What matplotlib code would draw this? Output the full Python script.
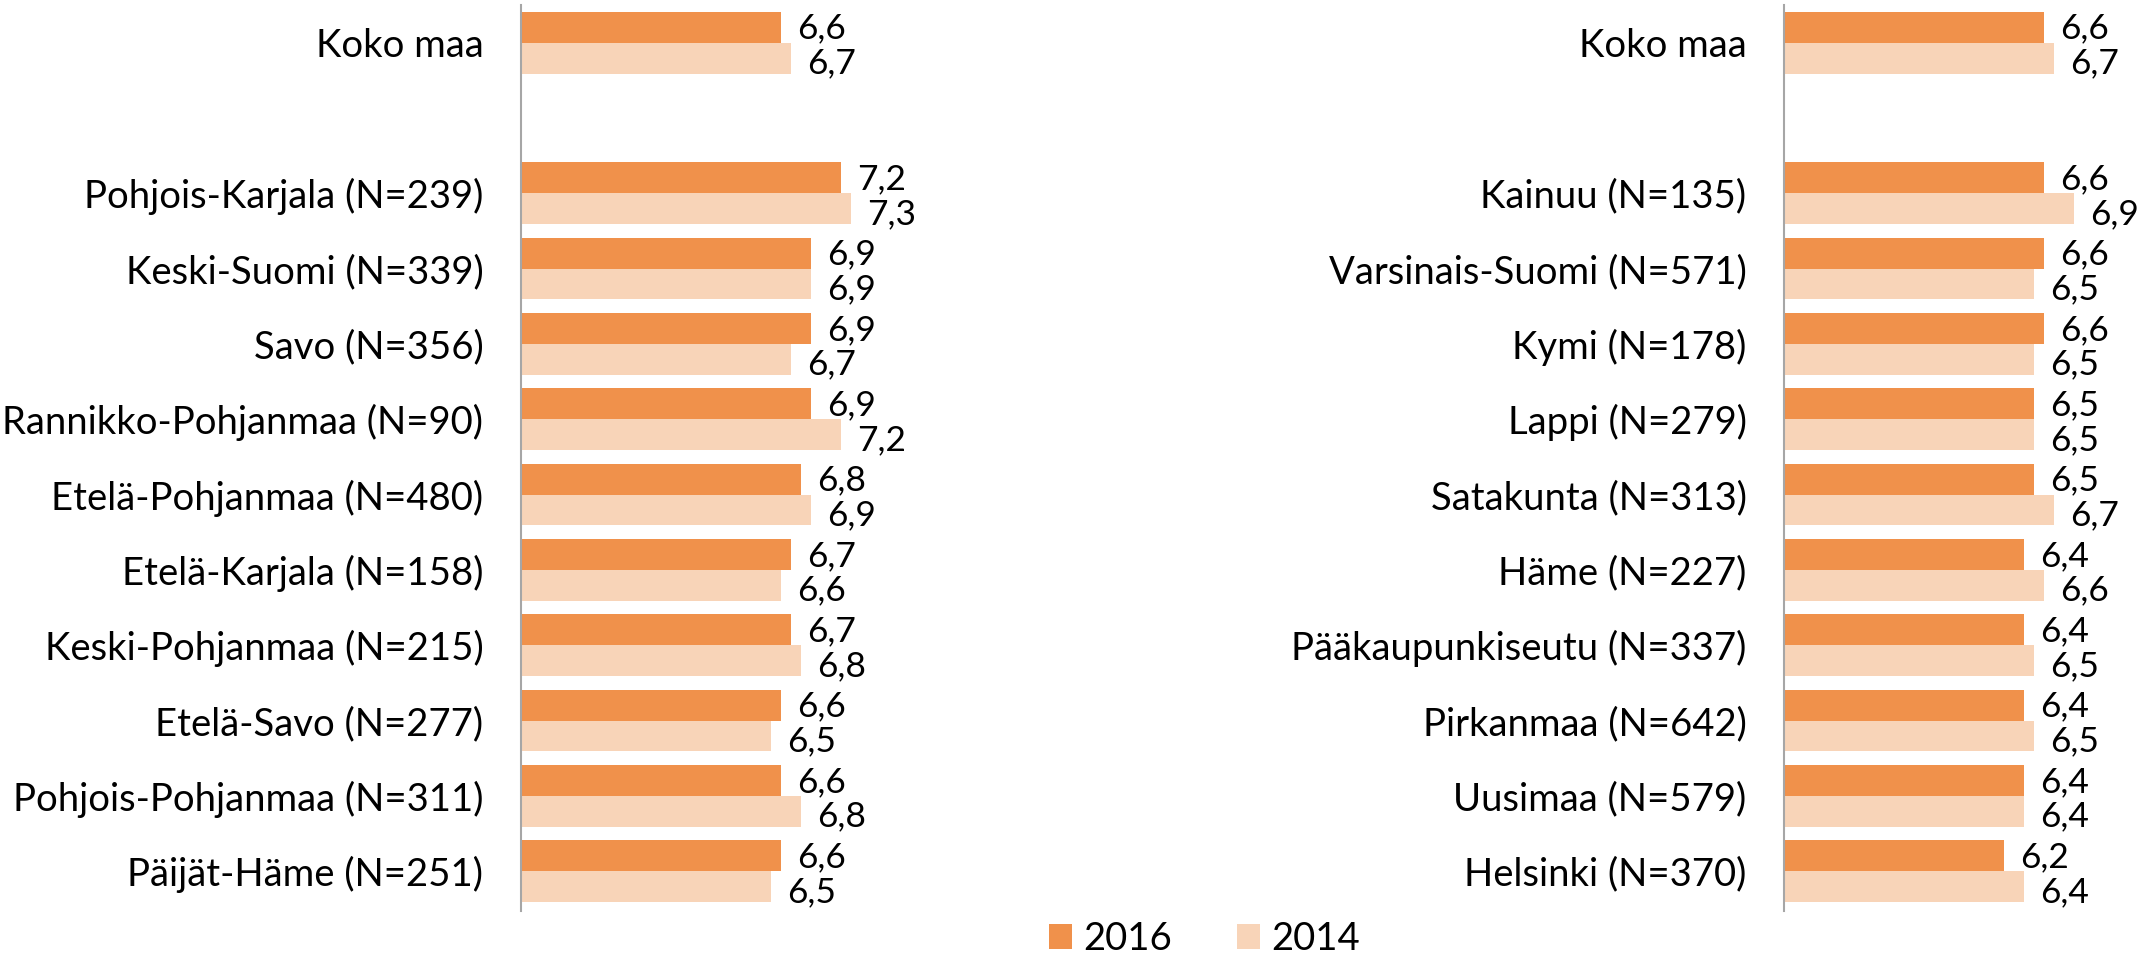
import numpy as np
import matplotlib as mpl
mpl.use('Agg')
import matplotlib.pyplot as plt

plt.rcParams['font.family'] = ['Lato', 'DejaVu Sans']

# left panel
left_labels = ["Koko maa", "", "Pohjois-Karjala (N=239)", "Keski-Suomi (N=339)",
               "Savo (N=356)", "Rannikko-Pohjanmaa (N=90)", "Etelä-Pohjanmaa (N=480)",
               "Etelä-Karjala (N=158)", "Keski-Pohjanmaa (N=215)", "Etelä-Savo (N=277)",
               "Pohjois-Pohjanmaa (N=311)", "Päijät-Häme (N=251)"]
left_2016 = [6.6, None, 7.2, 6.9, 6.9, 6.9, 6.8, 6.7, 6.7, 6.6, 6.6, 6.6]
left_2014 = [6.7, None, 7.3, 6.9, 6.7, 7.2, 6.9, 6.6, 6.8, 6.5, 6.8, 6.5]

# right panel
right_labels = ["Koko maa", "", "Kainuu (N=135)", "Varsinais-Suomi (N=571)",
                "Kymi (N=178)", "Lappi (N=279)", "Satakunta (N=313)", "Häme (N=227)",
                "Pääkaupunkiseutu (N=337)", "Pirkanmaa (N=642)", "Uusimaa (N=579)",
                "Helsinki (N=370)"]
right_2016 = [6.6, None, 6.6, 6.6, 6.6, 6.5, 6.5, 6.4, 6.4, 6.4, 6.4, 6.2]
right_2014 = [6.7, None, 6.9, 6.5, 6.5, 6.5, 6.7, 6.6, 6.5, 6.5, 6.4, 6.4]

years = ["2016", "2014"]
colors = ["#F0914B", "#F8D4B8"]
XMIN = 4

fig = plt.figure(figsize=(21.51, 9.58), dpi=100)
ax_l = fig.add_axes([0.2422, 0.049, 0.1674, 0.9458])
ax_r = fig.add_axes([0.8294, 0.049, 0.1674, 0.9458])

bh = 0.41
fs = 27.5
vfs = 25.5


def draw(ax, labels, v16, v14):
    y = np.arange(len(labels))
    for vals, off, nudge, col, name in [(v16, -bh / 2, -0.02, colors[0], years[0]),
                                        (v14, bh / 2, 0.03, colors[1], years[1])]:
        ys = [yy + off for yy, v in zip(y, vals) if v is not None]
        vs = [v for v in vals if v is not None]
        ax.barh(ys, [v - XMIN for v in vs], left=XMIN, height=bh, color=col,
                label=name)
        for yy, v in zip(ys, vs):
            ax.text(v + 0.16, yy + nudge, ("%.1f" % v).replace(".", ","),
                    va='center_baseline', ha='left', fontsize=vfs)
    ax.set_yticks(y)
    ax.set_yticklabels(labels, fontsize=fs)
    ax.tick_params(axis='y', length=0, pad=27)
    ax.set_ylim(len(labels) - 0.47, -0.5)
    ax.set_xlim(XMIN, 7.6)
    ax.set_xticks([])
    for s in ['top', 'right', 'bottom']:
        ax.spines[s].set_visible(False)
    ax.spines['left'].set_color('#A6A6A6')
    ax.spines['left'].set_linewidth(1.5)


draw(ax_l, left_labels, left_2016, left_2014)
draw(ax_r, right_labels, right_2016, right_2014)

handles, labs = ax_l.get_legend_handles_labels()
fig.legend(handles, labs, loc='center', bbox_to_anchor=(0.56, 0.02), ncol=2,
           frameon=False, fontsize=fs, handlelength=0.6, handleheight=0.6,
           handletextpad=0.3, columnspacing=1.7)

fig.savefig("out.png", dpi=100)
